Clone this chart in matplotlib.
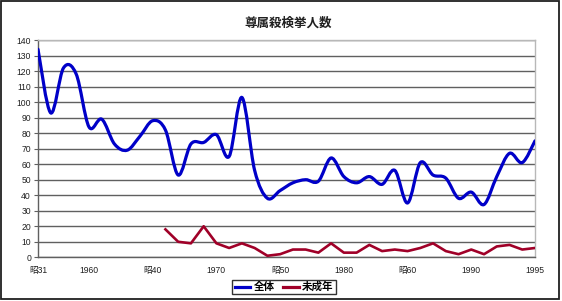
import matplotlib
matplotlib.use("Agg")
import matplotlib.pyplot as plt
from matplotlib.path import Path
from matplotlib.patches import PathPatch, Rectangle
from matplotlib.lines import Line2D
import numpy as np

# ---- data ----
years_all = list(range(1956, 1996))
total = [134, 93, 122, 118, 84, 89, 73, 69, 78, 88,
         82, 53, 73, 74, 79, 65, 103, 56, 38, 43,
         48, 50, 49, 64, 52, 48, 52, 47, 56, 35,
         61, 53, 51, 38, 42, 34, 52, 67, 61, 75]
years_minor = list(range(1966, 1996))
minor = [18, 10, 9, 20, 9, 6, 9, 6, 1, 2,
         5, 5, 3, 9, 3, 3, 8, 4, 5, 4,
         6, 9, 4, 2, 5, 2, 7, 8, 5, 6]
tick_years = [1956, 1960, 1965, 1970, 1975, 1980, 1985, 1990, 1995]
tick_labels = ["昭31", "1960", "昭40", "1970", "昭50", "1980", "昭60", "1990", "1995"]
title = "尊属殺検挙人数"
series_names = ["全体", "未成年"]

CJK = ["Noto Sans CJK JP", "DejaVu Sans"]
NUM = ["Liberation Sans", "Noto Sans CJK JP"]

blue = "#0000c8"
red = "#a00028"


def smooth_path(xs, ys):
    pts = np.column_stack([xs, ys]).astype(float)
    n = len(pts)
    verts = [pts[0]]
    codes = [Path.MOVETO]
    for i in range(n - 1):
        p0 = pts[i - 1] if i > 0 else pts[i]
        p1 = pts[i]
        p2 = pts[i + 1]
        p3 = pts[i + 2] if i + 2 < n else pts[i + 1]
        c1 = p1 + (p2 - p0) / 6.0
        c2 = p2 - (p3 - p1) / 6.0
        verts += [c1, c2, p2]
        codes += [Path.CURVE4] * 3
    return Path(verts, codes)


fig = plt.figure(figsize=(5.62, 3.01), dpi=100)
fig.patch.set_facecolor("white")

ax = fig.add_axes([38 / 562, 1 - 257.3 / 301, (535 - 38) / 562, (257.3 - 40) / 301])
ax.set_xlim(1956, 1995)
ax.set_ylim(0, 140)
ax.set_yticks(range(0, 141, 10))
ax.grid(axis="y", color="#606060", linewidth=1.0)
ax.set_axisbelow(True)

ax.add_patch(PathPatch(smooth_path(years_all, total), facecolor="none",
                       edgecolor=blue, linewidth=2.3, capstyle="round",
                       joinstyle="round", transform=ax.transData, zorder=3))
ax.plot(years_minor, minor, color=red, linewidth=1.9, solid_joinstyle="round", zorder=3)

ax.set_xticks(tick_years)
ax.set_xticklabels(tick_labels)
for lab in ax.get_xticklabels():
    lab.set_family(NUM)
    lab.set_fontsize(6.2)
for lab in ax.get_yticklabels():
    lab.set_family(NUM)
    lab.set_fontsize(6.2)
ax.tick_params(axis="x", length=0, pad=6, colors="#202020")
ax.tick_params(axis="y", length=3, width=0.8, color="#606060", pad=2, colors="#202020")

for s in ["left", "bottom"]:
    ax.spines[s].set_color("#606060")
    ax.spines[s].set_linewidth(1.0)
for s in ["top", "right"]:
    ax.spines[s].set_color("#b8b8b8")
    ax.spines[s].set_linewidth(1.0)

fig.text(288 / 562, 1 - 23 / 301, title, ha="center", va="center",
         family=CJK, fontsize=9, fontweight="bold", color="#202020")

handles = [Line2D([], [], color=blue, linewidth=2.3),
           Line2D([], [], color=red, linewidth=2.3)]
leg = fig.legend(handles, series_names, loc="center",
                 bbox_to_anchor=(284 / 562, 1 - 287 / 301), ncol=2,
                 prop={"family": CJK, "size": 7.6, "weight": "bold"},
                 frameon=True, fancybox=False, handlelength=1.5,
                 handletextpad=0.3, columnspacing=0.8, borderpad=0.2,
                 borderaxespad=0)
leg.get_frame().set_edgecolor("black")
leg.get_frame().set_linewidth(1.0)

fig.add_artist(Rectangle((0.8 / 562, 2.5 / 301), 558 / 562, 297.5 / 301,
                         transform=fig.transFigure, fill=False,
                         edgecolor="#202020", linewidth=1.3))

fig.savefig("out.png", dpi=100, facecolor="white")
